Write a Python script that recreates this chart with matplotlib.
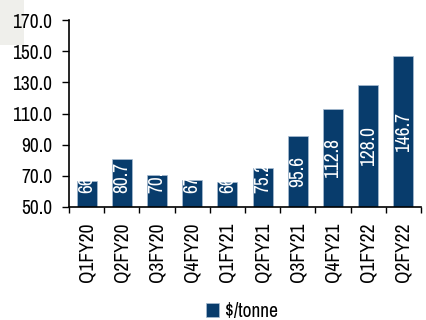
import matplotlib
matplotlib.use("Agg")
import matplotlib.pyplot as plt
from matplotlib.patches import Rectangle

categories = ["Q1FY20", "Q2FY20", "Q3FY20", "Q4FY20", "Q1FY21",
              "Q2FY21", "Q3FY21", "Q4FY21", "Q1FY22", "Q2FY22"]
values = [66.6, 80.7, 70.3, 67.4, 66.3, 75.2, 95.6, 112.8, 128.0, 146.7]
yticks = [50.0, 70.0, 90.0, 110.0, 130.0, 150.0, 170.0]
series_name = "$/tonne"

plt.rcParams['font.family'] = ['Archivo Narrow', 'DejaVu Sans']
color = '#083c6c'
fs = 14

fig = plt.figure(figsize=(4.27, 3.20), dpi=100)
fig.patches.append(Rectangle((0, 1 - 45/320), 24/427, 45/320, transform=fig.transFigure,
                             facecolor='#efefeb', edgecolor='none', zorder=-5))
ax = fig.add_axes([69/427, 1 - 207/320, (421 - 69)/427, (207 - 20)/320])
ax.patch.set_alpha(0)

x = list(range(len(categories)))
bars = ax.bar(x, [v - 50 for v in values], bottom=50, width=0.57, color=color,
              edgecolor='#a9bdd3', linewidth=0.5, label=series_name, zorder=2)

for xi, v, b in zip(x, values, bars):
    yc = max((50 + v) / 2, 68.8)
    t = ax.text(xi, yc, f"{v:.1f}", rotation=90, ha='center', va='center',
                color='white', fontsize=fs, zorder=3)
    t.set_clip_path(b)

ax.set_xlim(-0.5, len(categories) - 0.5)
ax.set_ylim(50, 170)
ax.set_yticks(yticks)
ax.set_yticklabels([f"{t:.1f}" for t in yticks], fontsize=fs)
ax.set_xticks([i - 0.5 for i in range(len(categories) + 1)])
ax.set_xticklabels([])
ax.set_xticks(x, minor=True)
ax.set_xticklabels(categories, minor=True, rotation=90, fontsize=fs)
ax.tick_params(axis='x', which='minor', length=0, pad=11)
ax.tick_params(axis='x', which='major', length=4, width=1, direction='out')
ax.tick_params(axis='y', length=5, width=1, direction='out', pad=7)

for s in ['top', 'right']:
    ax.spines[s].set_visible(False)
for s in ['left', 'bottom']:
    ax.spines[s].set_linewidth(1.2)

fig.legend(handles=[bars], labels=[series_name], loc='center',
           bbox_to_anchor=(242/427, 1 - 311/320), frameon=False, fontsize=14,
           handlelength=0.7, handleheight=0.7, handletextpad=0.3, borderpad=0)

fig.savefig("out.png", dpi=100)
